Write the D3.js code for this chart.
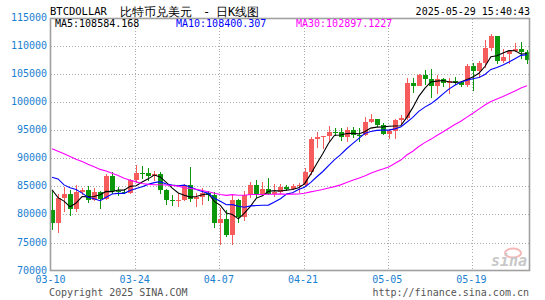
<!DOCTYPE html>
<html>
<head>
<meta charset="utf-8">
<script src="https://cdn.jsdelivr.net/npm/d3@7"></script>
<style>
  body { margin: 0; background: #fff; }
  svg { display: block; }
  text { font-family: "DejaVu Sans Mono", monospace; }
</style>
</head>
<body>
<div id="chart"></div>
<script>
// Tageskerzen 03-10 .. 05-28
const dates = [
  "03-10","03-11","03-12","03-13","03-14","03-15","03-16","03-17","03-18","03-19",
  "03-20","03-21","03-22","03-23","03-24","03-25","03-26","03-27","03-28","03-29",
  "03-30","03-31","04-01","04-02","04-03","04-04","04-05","04-06","04-07","04-08",
  "04-09","04-10","04-11","04-12","04-13","04-14","04-15","04-16","04-17","04-18",
  "04-19","04-20","04-21","04-22","04-23","04-24","04-25","04-26","04-27","04-28",
  "04-29","04-30","05-01","05-02","05-03","05-04","05-05","05-06","05-07","05-08",
  "05-09","05-10","05-11","05-12","05-13","05-14","05-15","05-16","05-17","05-18",
  "05-19","05-20","05-21","05-22","05-23","05-24","05-25","05-26","05-27","05-28"
];
const opens = [
  80800,78530,82900,83700,81050,83950,84350,82550,84050,82700,
  86850,84150,84050,83850,86050,87450,87400,86900,87200,84400,
  82600,82350,82550,85200,82700,83150,83850,83500,78400,79200,
  76300,82550,79600,83450,85250,83700,84550,83650,84050,84950,
  84450,85050,85200,87500,93400,93750,93950,94700,94600,93700,
  94950,94200,94150,96500,96950,95850,94250,94800,96850,97100,
  103300,102900,104800,104050,102750,104050,103450,103650,103500,103050,
  106400,105550,106950,109550,111700,107300,108550,109100,109450,108900
];
const highs = [
  84100,83600,84900,84300,85300,84650,85050,84700,84100,87200,
  87500,84800,84500,86300,88750,88550,88250,87750,87500,84600,
  83500,83900,85500,88500,83900,84700,84200,84000,81100,80800,
  83500,82700,84200,85800,86100,85700,86400,85400,85400,85300,
  85500,85600,88300,93800,94700,94000,95700,95300,95300,95500,
  95500,95300,97400,97800,97000,96300,95200,96900,97700,104200,
  104300,104900,105700,105800,104800,104300,104200,104500,103700,106700,
  107000,107300,111000,112000,111800,109400,109300,110400,110700,109300
];
const lows = [
  77300,76700,80500,79800,80500,83500,82000,82400,81050,82500,
  83700,83300,83700,83600,85600,86300,85900,85900,83700,81600,
  81500,81300,82400,82300,81300,81700,82400,77600,74500,76000,
  74600,78400,78900,82900,83000,83600,83500,83100,83700,84100,
  84300,83900,84900,87100,91800,91700,92900,93900,93000,92800,
  93600,92900,94000,96200,95500,94100,93500,93400,95900,96800,
  101600,102900,103100,100700,101500,102600,101400,103100,102600,102600,
  101900,104300,106000,109100,106800,106900,106700,108800,107600,106700
];
const closes = [
  78530,82900,83700,81050,83950,84350,82550,84050,82700,86850,
  84150,84050,83850,86050,87450,87400,86900,87200,84400,82600,
  82350,82550,85200,82700,83150,83850,83500,78400,79200,76300,
  82550,79600,83450,85250,83700,84550,83650,84050,84950,84450,
  85050,85200,87500,93400,93750,93950,94700,94600,93700,94950,
  94200,94150,96500,96950,95850,94250,94800,96850,97100,103300,
  102900,104800,104050,102750,104050,103450,103650,103500,103050,106400,
  105550,106950,109550,111700,107300,107950,109100,109450,108900,107520
];
// 29 Schlusskurse vor dem Fenster (nur fuer MA-Anlauf)
const priorCloses = [
  96500,97400,95750,97870,96600,97500,97570,96120,95770,95540,
  96640,98330,96130,96550,96270,91550,88740,84350,84700,84370,
  86030,94250,86120,87220,90620,89960,86740,86150,80600
];

const yTicks = [70000,75000,80000,85000,90000,95000,100000,105000,110000,115000];
const xTicks = ["03-10","03-24","04-07","04-21","05-05","05-19"];

const maInfo = [
  { n: 5,  label: "MA5:108584.168",    color: "#000000", x: 55 },
  { n: 10, label: "MA10:108400.307",   color: "#0000ff", x: 176 },
  { n: 30, label: "MA30:102897.1227",  color: "#ff00ff", x: 296 }
];

const W = 545;
const H = 300;
const F = { left: 50.5, right: 529.5, top: 18.5, bottom: 270.5 };

const UP = "#f65c5c";
const DOWN = "#0b990b";
const BLUE = "#1a80d0";

const svg = d3.select("#chart").append("svg").attr("width", W).attr("height", H);

const x = d3.scalePoint().domain(dates).range([52, 527]);
const y = d3.scaleLinear().domain([70000, 115000]).range([270.7, 17.6]);

const rows = dates.map((d, i) => ({ d, o: opens[i], h: highs[i], l: lows[i], c: closes[i] }));

// Kopfzeile
svg.append("text").attr("x", 50).attr("y", 15).attr("font-size", 10.5).text("BTCDOLLAR");
const cjk = "'Noto Sans CJK SC', sans-serif";
svg.append("text").attr("x", 120).attr("y", 16).attr("font-family", cjk).attr("font-size", 12)
  .text("比特币兑美元");
svg.append("text").attr("x", 203).attr("y", 16).attr("font-family", cjk).attr("font-size", 12)
  .text("-");
svg.append("text").attr("x", 216).attr("y", 16).attr("font-family", cjk).attr("font-size", 12)
  .text("日K线图");
svg.append("text").attr("x", 530).attr("y", 15).attr("text-anchor", "end").attr("font-size", 10)
  .text("2025-05-29 15:40:43");

// Gitter
const grid = svg.append("g").attr("stroke", "#aaa").attr("stroke-dasharray", "1,2").attr("shape-rendering", "crispEdges");
grid.selectAll("line.h")
  .data(yTicks.filter(v => v > 70000 && v < 115000))
  .join("line")
  .attr("x1", F.left).attr("x2", F.right)
  .attr("y1", d => Math.round(y(d)) + 0.5).attr("y2", d => Math.round(y(d)) + 0.5);
grid.selectAll("line.v")
  .data(xTicks.slice(1))
  .join("line")
  .attr("x1", d => Math.round(x(d)) - 0.5).attr("x2", d => Math.round(x(d)) - 0.5)
  .attr("y1", F.top).attr("y2", F.bottom);

// Y-Achse Beschriftung
svg.append("g").selectAll("text")
  .data(yTicks)
  .join("text")
  .attr("x", 47)
  .attr("y", d => y(d) + 3)
  .attr("text-anchor", "end")
  .attr("font-size", 10)
  .attr("fill", BLUE)
  .text(d => d);

// X-Achse Beschriftung
svg.append("g").selectAll("text")
  .data(xTicks)
  .join("text")
  .attr("x", d => x(d) - 1.5)
  .attr("y", 283)
  .attr("text-anchor", "middle")
  .attr("font-size", 10)
  .attr("fill", BLUE)
  .text(d => d);

// sina Wasserzeichen
svg.append("ellipse").attr("cx", 513).attr("cy", 253).attr("rx", 8).attr("ry", 4.5)
  .attr("fill", "none").attr("stroke", "#f4b8b8").attr("stroke-width", 2);
svg.append("text").attr("x", 527).attr("y", 266).attr("text-anchor", "end")
  .attr("font-family", "'DejaVu Sans', sans-serif").attr("font-size", 15)
  .attr("font-style", "italic").attr("font-weight", "bold").attr("fill", "#c8c8c8")
  .text("sina");

// Kerzen
const candles = svg.append("g").attr("shape-rendering", "crispEdges");
candles.selectAll("line")
  .data(rows)
  .join("line")
  .attr("x1", d => Math.round(x(d.d)) + 0.5)
  .attr("x2", d => Math.round(x(d.d)) + 0.5)
  .attr("y1", d => y(d.h))
  .attr("y2", d => y(d.l))
  .attr("stroke", d => d.c >= d.o ? UP : DOWN);
candles.selectAll("rect")
  .data(rows)
  .join("rect")
  .attr("x", d => Math.round(x(d.d)) - 2)
  .attr("y", d => y(Math.max(d.o, d.c)))
  .attr("width", 5)
  .attr("height", d => Math.max(1, y(Math.min(d.o, d.c)) - y(Math.max(d.o, d.c))))
  .attr("fill", d => d.c >= d.o ? UP : DOWN);

// gleitende Durchschnitte
const allCloses = priorCloses.concat(closes);
const off = priorCloses.length;
maInfo.forEach(m => {
  const pts = dates.map((d, i) => {
    const k = i + off;
    return [x(d), d3.mean(allCloses.slice(k - m.n + 1, k + 1))];
  });
  svg.append("path")
    .datum(pts)
    .attr("fill", "none")
    .attr("stroke", m.color)
    .attr("stroke-width", 1.1)
    .attr("d", d3.line().x(p => p[0]).y(p => y(p[1])));
});

// Rahmen
svg.append("rect")
  .attr("x", F.left).attr("y", F.top)
  .attr("width", F.right - F.left).attr("height", F.bottom - F.top)
  .attr("fill", "none").attr("stroke", "#a0a0a0").attr("stroke-width", 1.6);

// MA Legende
svg.append("g").selectAll("text")
  .data(maInfo)
  .join("text")
  .attr("x", d => d.x)
  .attr("y", 27)
  .attr("font-size", 10)
  .attr("fill", d => d.color)
  .text(d => d.label);

// Fusszeile
svg.append("text").attr("x", 49).attr("y", 296).attr("font-size", 10).attr("fill", "#555")
  .text("Copyright 2025 SINA.COM");
svg.append("text").attr("x", 529).attr("y", 296).attr("text-anchor", "end").attr("font-size", 10).attr("fill", "#555")
  .text("http://finance.sina.com.cn");
</script>
</body>
</html>
